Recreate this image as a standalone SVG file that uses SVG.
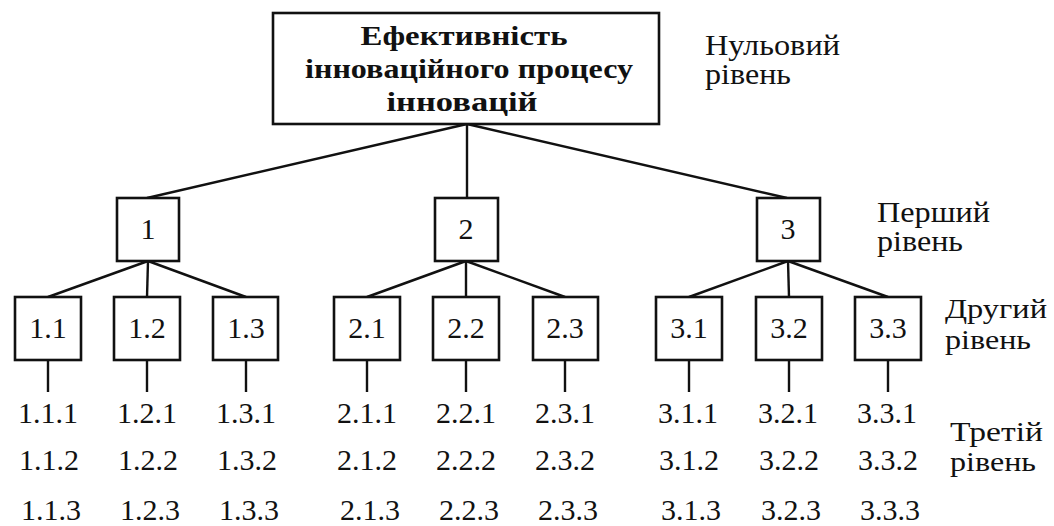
<svg xmlns="http://www.w3.org/2000/svg" width="1054" height="526" viewBox="0 0 1054 526">
  <style>
    .box { fill: #fff; stroke: #111; stroke-width: 2.6; }
    .link { stroke: #111; stroke-width: 2.4; fill: none; }
    .t { fill: #111; }
    .lbl { font-size: 30px; text-anchor: middle; }
    .leaf { font-size: 30px; text-anchor: middle; }
    .lvl { font-size: 29px; }
    .lvl-tight { font-size: 27px; }
    .root { font-size: 27px; font-weight: bold; text-anchor: middle; }
  </style>
  <rect width="1054" height="526" fill="#fff"/>

  <!-- connectors -->
  <g id="connectors">
    <line class="link" x1="467" y1="124" x2="147" y2="198"/>
    <line class="link" x1="467" y1="124" x2="467" y2="198"/>
    <line class="link" x1="467" y1="124" x2="787" y2="198"/>

    <line class="link" x1="148" y1="261" x2="48" y2="297"/>
    <line class="link" x1="148" y1="261" x2="147" y2="297"/>
    <line class="link" x1="148" y1="261" x2="246" y2="297"/>

    <line class="link" x1="466" y1="261" x2="367" y2="297"/>
    <line class="link" x1="466" y1="261" x2="466" y2="297"/>
    <line class="link" x1="466" y1="261" x2="565" y2="297"/>

    <line class="link" x1="788" y1="261" x2="689" y2="297"/>
    <line class="link" x1="788" y1="261" x2="789" y2="297"/>
    <line class="link" x1="788" y1="261" x2="888" y2="297"/>

    <line class="link" x1="48" y1="360" x2="48" y2="392"/>
    <line class="link" x1="147" y1="360" x2="147" y2="392"/>
    <line class="link" x1="246" y1="360" x2="246" y2="392"/>
    <line class="link" x1="367" y1="360" x2="367" y2="392"/>
    <line class="link" x1="466" y1="360" x2="466" y2="392"/>
    <line class="link" x1="565" y1="360" x2="565" y2="392"/>
    <line class="link" x1="689" y1="360" x2="689" y2="392"/>
    <line class="link" x1="789" y1="360" x2="789" y2="392"/>
    <line class="link" x1="888" y1="360" x2="888" y2="392"/>
  </g>

  <g font-family="Liberation Serif">
  <!-- level 0 -->
  <g id="root">
    <rect class="box" x="273" y="13" width="386" height="111"/>
    <text class="t root" x="464" y="45" textLength="207" lengthAdjust="spacingAndGlyphs">Ефективність</text>
    <text class="t root" x="469" y="78" textLength="328" lengthAdjust="spacingAndGlyphs">інноваційного процесу</text>
    <text class="t root" x="462" y="111" textLength="151" lengthAdjust="spacingAndGlyphs">інновацій</text>
  </g>

  <!-- level 1 -->
  <g id="n1"><rect class="box" x="117" y="198" width="62" height="63"/><text class="t lbl" x="148" y="239">1</text></g>
  <g id="n2"><rect class="box" x="435" y="198" width="63" height="63"/><text class="t lbl" x="466" y="239">2</text></g>
  <g id="n3"><rect class="box" x="757" y="198" width="63" height="63"/><text class="t lbl" x="788" y="239">3</text></g>

  <!-- level 2 -->
  <g id="n1-1"><rect class="box" x="15" y="297" width="66" height="63"/><text class="t lbl" x="48" y="338">1.1</text></g>
  <g id="n1-2"><rect class="box" x="114" y="297" width="66" height="63"/><text class="t lbl" x="147" y="338">1.2</text></g>
  <g id="n1-3"><rect class="box" x="213" y="297" width="65" height="63"/><text class="t lbl" x="246" y="338">1.3</text></g>
  <g id="n2-1"><rect class="box" x="334" y="297" width="66" height="63"/><text class="t lbl" x="367" y="338">2.1</text></g>
  <g id="n2-2"><rect class="box" x="433" y="297" width="66" height="63"/><text class="t lbl" x="466" y="338">2.2</text></g>
  <g id="n2-3"><rect class="box" x="533" y="297" width="65" height="63"/><text class="t lbl" x="565" y="338">2.3</text></g>
  <g id="n3-1"><rect class="box" x="656" y="297" width="66" height="63"/><text class="t lbl" x="689" y="338">3.1</text></g>
  <g id="n3-2"><rect class="box" x="756" y="297" width="66" height="63"/><text class="t lbl" x="789" y="338">3.2</text></g>
  <g id="n3-3"><rect class="box" x="855" y="297" width="66" height="63"/><text class="t lbl" x="888" y="338">3.3</text></g>

  <!-- level 3 -->
  <g id="leaves-1-1" class="t leaf"><text x="48" y="423">1.1.1</text><text x="49" y="470">1.1.2</text><text x="51" y="520">1.1.3</text></g>
  <g id="leaves-1-2" class="t leaf"><text x="147" y="423">1.2.1</text><text x="148" y="470">1.2.2</text><text x="150" y="520">1.2.3</text></g>
  <g id="leaves-1-3" class="t leaf"><text x="246" y="423">1.3.1</text><text x="247" y="470">1.3.2</text><text x="249" y="520">1.3.3</text></g>
  <g id="leaves-2-1" class="t leaf"><text x="367" y="423">2.1.1</text><text x="367" y="470">2.1.2</text><text x="370" y="520">2.1.3</text></g>
  <g id="leaves-2-2" class="t leaf"><text x="466" y="423">2.2.1</text><text x="466" y="470">2.2.2</text><text x="469" y="520">2.2.3</text></g>
  <g id="leaves-2-3" class="t leaf"><text x="565" y="423">2.3.1</text><text x="565" y="470">2.3.2</text><text x="568" y="520">2.3.3</text></g>
  <g id="leaves-3-1" class="t leaf"><text x="688" y="423">3.1.1</text><text x="689" y="470">3.1.2</text><text x="691" y="520">3.1.3</text></g>
  <g id="leaves-3-2" class="t leaf"><text x="788" y="423">3.2.1</text><text x="789" y="470">3.2.2</text><text x="791" y="520">3.2.3</text></g>
  <g id="leaves-3-3" class="t leaf"><text x="887" y="423">3.3.1</text><text x="888" y="470">3.3.2</text><text x="890" y="520">3.3.3</text></g>

  <!-- level captions -->
  <g id="level-captions" class="t lvl">
    <text x="705" y="55" textLength="135" lengthAdjust="spacingAndGlyphs">Нульовий</text>
    <text x="705" y="84" textLength="86" lengthAdjust="spacingAndGlyphs">рівень</text>
    <text x="877" y="222" textLength="113" lengthAdjust="spacingAndGlyphs">Перший</text>
    <text x="877" y="251" textLength="86" lengthAdjust="spacingAndGlyphs">рівень</text>
    <text class="lvl-tight" x="945" y="318" textLength="102" lengthAdjust="spacingAndGlyphs">Другий</text>
    <text class="lvl-tight" x="945" y="349" textLength="86" lengthAdjust="spacingAndGlyphs">рівень</text>
    <text class="lvl-tight" x="950" y="441" textLength="93" lengthAdjust="spacingAndGlyphs">Третій</text>
    <text class="lvl-tight" x="950" y="471" textLength="86" lengthAdjust="spacingAndGlyphs">рівень</text>
  </g>
  </g>
</svg>
